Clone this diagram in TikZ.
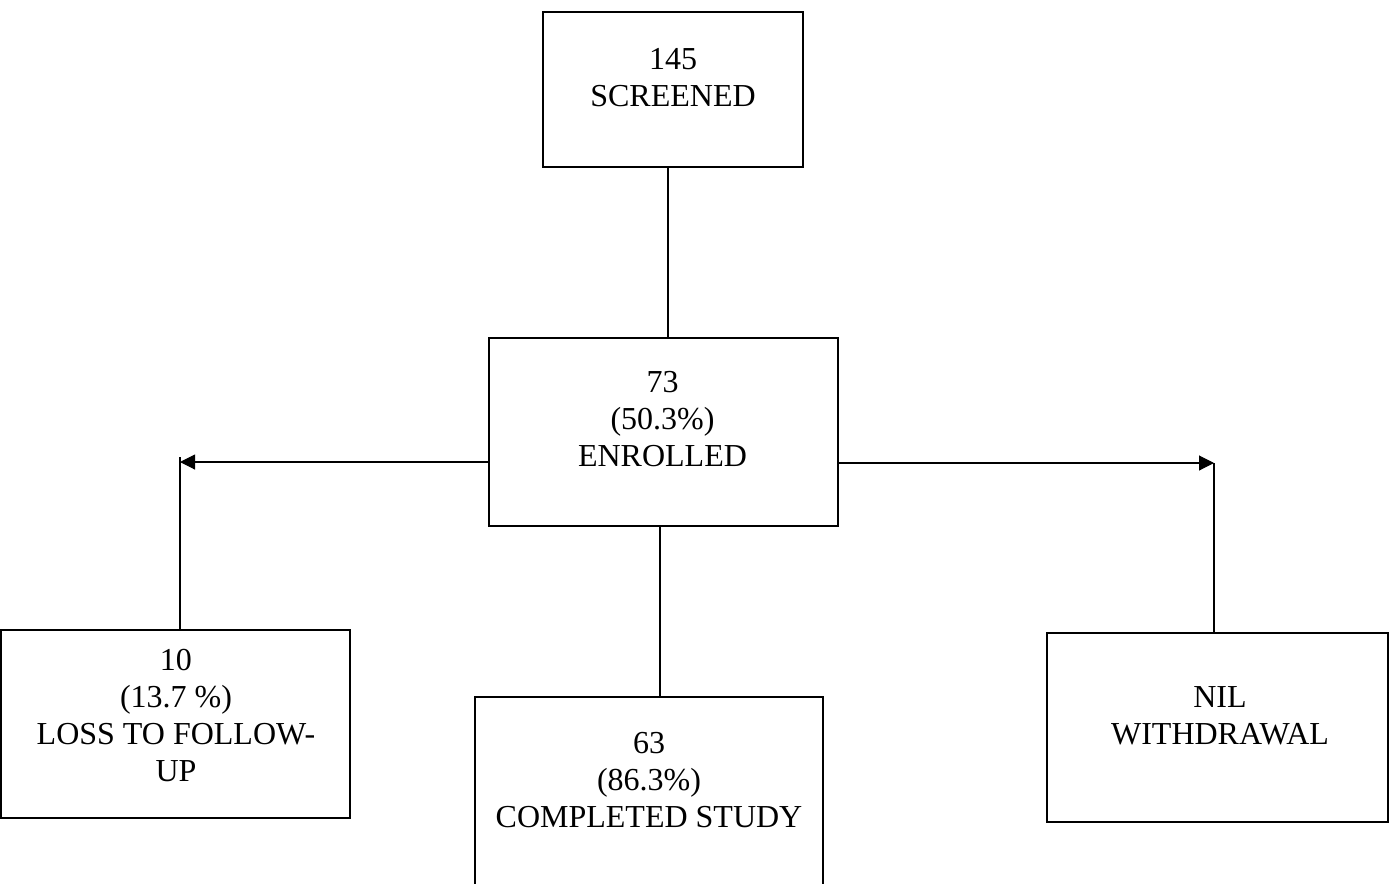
\documentclass[tikz,border=0pt]{standalone}
\usepackage{fontspec}
\setmainfont{Liberation Serif}
\usetikzlibrary{arrows.meta}
\begin{document}
\begin{tikzpicture}[x=0.75pt,y=-0.75pt,
  box/.style={draw=black,line width=1.5pt,rectangle,inner sep=0pt,fill=white},
  lbl/.style={anchor=base,inner sep=0pt,font=\fontsize{24pt}{27.75pt}\selectfont},
  vconn/.style={draw=black,line width=1.2pt},
  hconn/.style={draw=black,line width=0.8pt,-{Triangle[length=11.25pt,width=11.25pt]}}]
\useasboundingbox (0,0) rectangle (1390,883);
\clip (0,0) rectangle (1390,883);
% boxes
\node[box,minimum width=195pt,minimum height=116.25pt] (scr) at (673,89.5) {};
\node[box,minimum width=261.75pt,minimum height=141pt] (enr) at (663.5,432) {};
\node[box,minimum width=261.75pt,minimum height=141pt] (loss) at (175.5,724) {};
\node[box,minimum width=261pt,minimum height=141pt] (comp) at (649,791) {};
\node[box,minimum width=255.75pt,minimum height=141.75pt] (wd) at (1217.5,727.5) {};
% texts
\node[lbl] (scrt) at (673,69) {\begin{tabular}[t]{@{}c@{}}145\\SCREENED\end{tabular}};
\node[lbl] (enrt) at (662.5,392) {\begin{tabular}[t]{@{}c@{}}73\\(50.3\%)\\ENROLLED\end{tabular}};
\node[lbl] (losst) at (176,670) {\begin{tabular}[t]{@{}c@{}}10\\(13.7 \%)\\LOSS TO FOLLOW-\\UP\end{tabular}};
\node[lbl] (compt) at (649,753) {\begin{tabular}[t]{@{}c@{}}63\\(86.3\%)\\COMPLETED STUDY\end{tabular}};
\node[lbl] (wdt) at (1220,707) {\begin{tabular}[t]{@{}c@{}}NIL\\WITHDRAWAL\end{tabular}};
% helper coordinates
\coordinate (tc) at (668,0);
\coordinate (bc) at (660,0);
\coordinate (lt) at (180,462);
\coordinate (ltv) at (180,457);
\coordinate (rt) at (1214,463);
% connectors
\draw[vconn] (scr.south -| tc) -- (enr.north -| tc);
\draw[vconn] (enr.south -| bc) -- (comp.north -| bc);
\draw[hconn] (enr.west |- lt) -- (lt);
\draw[vconn] (ltv) -- (loss.north -| ltv);
\draw[hconn] (enr.east |- rt) -- (rt);
\draw[vconn] (rt) -- (wd.north -| rt);
\end{tikzpicture}
\end{document}
